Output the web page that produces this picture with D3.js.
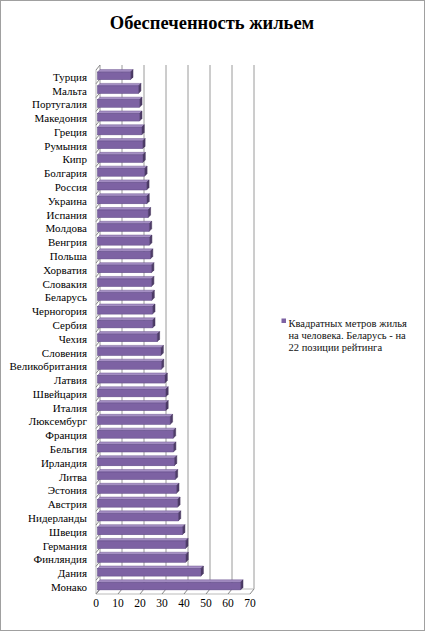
<!DOCTYPE html>
<html>
<head>
<meta charset="utf-8">
<script src="https://cdn.jsdelivr.net/npm/d3@7"></script>
<style>
  body { margin: 0; background: #fff; }
  svg { display: block; font-family: "Liberation Serif", "DejaVu Serif", serif; }
</style>
</head>
<body>
<div id="chart"></div>
<script>
// data, top to bottom as shown
var countries = ["Турция", "Мальта", "Португалия", "Македония", "Греция", "Румыния", "Кипр",
  "Болгария", "Россия", "Украина", "Испания", "Молдова", "Венгрия", "Польша", "Хорватия",
  "Словакия", "Беларусь", "Черногория", "Сербия", "Чехия", "Словения", "Великобритания",
  "Латвия", "Швейцария", "Италия", "Люксембург", "Франция", "Бельгия", "Ирландия", "Литва",
  "Эстония", "Австрия", "Нидерланды", "Швеция", "Германия", "Финляндия", "Дания", "Монако"];
var sqm = [15, 18.6, 19.1, 19.1, 20.1, 20.5, 20.6, 21.4, 22.3, 22.4, 23, 23.5, 23.6, 24,
  24.5, 24.5, 24.7, 25, 25, 27.1, 28.8, 29, 30.6, 31, 31, 33, 34.4, 34.5, 34.9, 35.3,
  35.9, 36.4, 36.7, 38.6, 40, 40.1, 47, 65];
var ticks = [0, 10, 20, 30, 40, 50, 60, 70];
var title = "Обеспеченность жильем";
var legendLines = ["Квадратных метров жилья", "на человека. Беларусь - на", "22 позиции рейтинга"];

var W = 425, H = 631;
var dx = 4, dy = -5; // 3d depth of the plot

var svg = d3.select("#chart").append("svg")
    .attr("width", W)
    .attr("height", H);

svg.append("rect")
    .attr("x", 0.5).attr("y", 0.5)
    .attr("width", W - 1).attr("height", H - 1)
    .attr("fill", "#fff")
    .attr("stroke", "#a0a0a0");

svg.append("text")
    .attr("x", 212).attr("y", 29)
    .attr("text-anchor", "middle")
    .attr("font-size", 18.5)
    .attr("font-weight", "bold")
    .attr("fill", "#000")
    .text(title);

var x = d3.scaleLinear().domain([0, 70]).range([96, 250]);
var y = d3.scaleBand().domain(countries).range([70, 594]);

var g = svg.append("g");

// back wall gridlines
g.selectAll(".grid").data(ticks).enter().append("line")
    .attr("class", "grid")
    .attr("x1", d => x(d) + dx).attr("x2", d => x(d) + dx)
    .attr("y1", y.range()[0] + dy).attr("y2", y.range()[1] + dy)
    .attr("stroke", "#9a9a9a").attr("stroke-width", 1);

// floor: back edge, front edge and the little depth lines
g.append("line")
    .attr("x1", x(0) + dx).attr("x2", x(70) + dx)
    .attr("y1", y.range()[1] + dy).attr("y2", y.range()[1] + dy)
    .attr("stroke", "#bbb");
g.append("line")
    .attr("x1", x(0)).attr("x2", x(70))
    .attr("y1", y.range()[1]).attr("y2", y.range()[1])
    .attr("stroke", "#bbb");
g.selectAll(".floor").data(ticks).enter().append("line")
    .attr("x1", d => x(d)).attr("x2", d => x(d) + dx)
    .attr("y1", y.range()[1]).attr("y2", y.range()[1] + dy)
    .attr("stroke", "#888");

// left wall
g.append("line")
    .attr("x1", x(0)).attr("x2", x(0))
    .attr("y1", y.range()[0]).attr("y2", y.range()[1])
    .attr("stroke", "#bbb");
var bounds = countries.map(c => y(c)).concat([y.range()[1]]);
g.selectAll(".wall").data(bounds).enter().append("line")
    .attr("x1", x(0)).attr("x2", x(0) + dx)
    .attr("y1", d => d).attr("y2", d => d + dy)
    .attr("stroke", "#888");

// bars
var bh = y.bandwidth() * 0.55;
var bd = 2.5; // bar depth
var bars = g.selectAll(".bar").data(countries.map((c, i) => ({ c: c, v: sqm[i] })))
    .enter().append("g").attr("class", "bar");

function fy(d) { return y(d.c) + y.bandwidth() / 2 - bh / 2 - 1; }
function fx0() { return x(0) + 1.5; }

bars.append("path") // top face
    .attr("d", d => {
      var x0 = fx0(), x1 = x(d.v) + 1.5, t = fy(d);
      return "M" + x0 + "," + t + "L" + x1 + "," + t + "L" + (x1 + bd) + "," + (t - bd) +
        "L" + (x0 + bd) + "," + (t - bd) + "Z";
    })
    .attr("fill", "#a58fc4").attr("stroke", "#6f5890").attr("stroke-width", 0.5);
bars.append("path") // end face
    .attr("d", d => {
      var x1 = x(d.v) + 1.5, t = fy(d);
      return "M" + x1 + "," + t + "L" + (x1 + bd) + "," + (t - bd) + "L" + (x1 + bd) + "," + (t - bd + bh) +
        "L" + x1 + "," + (t + bh) + "Z";
    })
    .attr("fill", "#4e3c68").attr("stroke", "#3e2f55").attr("stroke-width", 0.5);
bars.append("rect") // front face
    .attr("x", fx0())
    .attr("y", d => fy(d))
    .attr("width", d => x(d.v) - x(0))
    .attr("height", bh)
    .attr("fill", "#7d62a3").attr("stroke", "#5f4985").attr("stroke-width", 0.5);

// category labels
g.selectAll(".cat").data(countries).enter().append("text")
    .attr("x", 87)
    .attr("y", d => y(d) + y.bandwidth() / 2)
    .attr("dy", "0.35em")
    .attr("text-anchor", "end")
    .attr("font-size", 11)
    .attr("fill", "#000")
    .text(d => d);

// value axis labels
g.selectAll(".tick").data(ticks).enter().append("text")
    .attr("x", d => x(d))
    .attr("y", 607)
    .attr("text-anchor", "middle")
    .attr("font-size", 11.5)
    .attr("fill", "#000")
    .text(d => d);

// legend
var leg = svg.append("g").attr("transform", "translate(281.5,318.5)");
leg.append("rect")
    .attr("x", 0).attr("y", 0).attr("width", 4.5).attr("height", 4.5)
    .attr("fill", "#7d62a3");
leg.selectAll("text").data(legendLines).enter().append("text")
    .attr("x", 7)
    .attr("y", (d, i) => 8.5 + i * 12)
    .attr("font-size", 10.5)
    .attr("fill", "#111")
    .text(d => d);
</script>
</body>
</html>
